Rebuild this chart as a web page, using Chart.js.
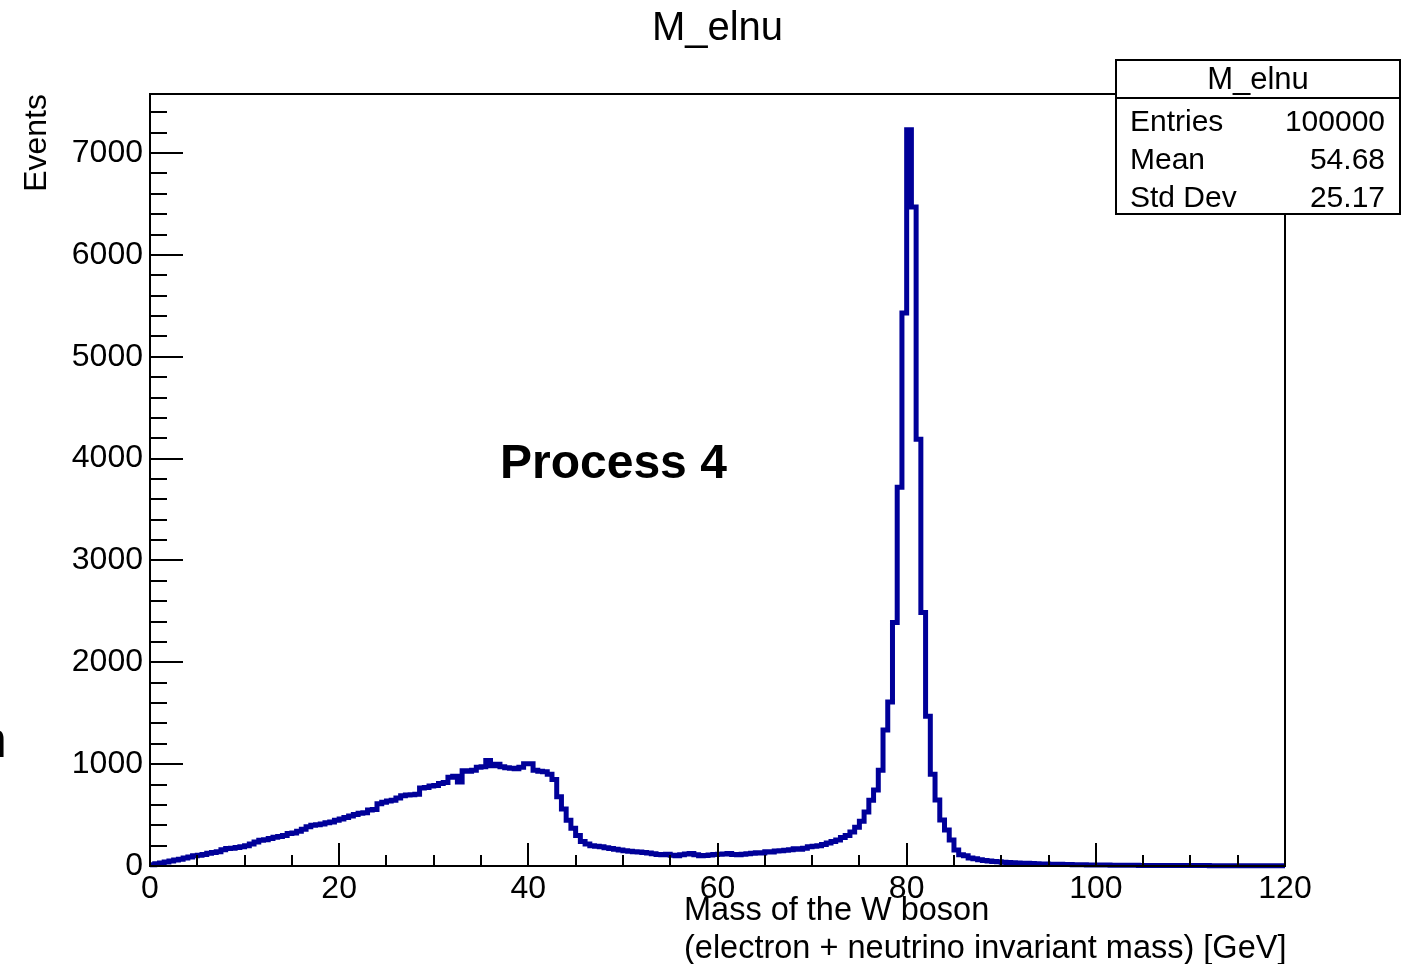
<!DOCTYPE html>
<html>
<head>
<meta charset="utf-8">
<title>M_elnu</title>
<script src="https://cdn.jsdelivr.net/npm/chart.js@4.4.0/dist/chart.umd.min.js"></script>
<style>
  html, body { margin: 0; padding: 0; background: #fff; }
  #wrap { width: 1406px; height: 964px; }
</style>
</head>
<body>
<div id="wrap"><canvas id="massChart" width="1406" height="964"></canvas></div>
<script>
// Histogramme M_elnu : 240 bins de 0.5 GeV entre 0 et 120 GeV
const xMin = 0;
const xMax = 120;
const binWidth = 0.5;
const yMax = 7580;

// contenu des bins (par tranches de 30 GeV)
const counts0to30 = [
  12, 22, 30, 40, 48, 58, 66, 78, 88, 100,
  105, 112, 125, 132, 140, 160, 172, 175, 182, 190,
  200, 215, 235, 252, 258, 270, 282, 290, 300, 318,
  325, 340, 360, 385, 400, 405, 412, 425, 432, 448,
  462, 475, 490, 505, 518, 522, 550, 555, 612, 625,
  638, 645, 668, 690, 697, 700, 705, 765, 770, 785
];
const counts30to60 = [
  790, 810, 820, 872, 880, 825, 935, 930, 940, 970,
  975, 1035, 985, 1000, 975, 965, 960, 955, 970, 1005,
  1005, 940, 930, 925, 900, 850, 680, 560, 450, 370,
  300, 240, 215, 200, 195, 190, 180, 172, 165, 158,
  150, 145, 140, 138, 132, 128, 120, 112, 110, 115,
  105, 100, 110, 118, 122, 110, 100, 102, 108, 112
];
const counts60to90 = [
  115, 118, 122, 112, 110, 115, 120, 125, 130, 128,
  140, 138, 148, 150, 155, 160, 170, 165, 175, 190,
  195, 200, 210, 225, 240, 255, 280, 300, 335, 380,
  440, 530, 645, 745, 940, 1335, 1610, 2390, 3720, 5430,
  7230, 6470, 4190, 2490, 1470, 900, 648, 452, 353, 255,
  157, 110, 100, 78, 72, 62, 55, 50, 45, 42
];
const counts90to120 = [
  38, 35, 32, 30, 28, 26, 24, 22, 20, 19,
  18, 17, 16, 15, 14, 13, 12, 12, 11, 10,
  10, 9, 9, 8, 8, 8, 7, 7, 7, 6,
  6, 6, 6, 5, 5, 5, 5, 5, 4, 4,
  4, 4, 4, 4, 3, 3, 3, 3, 3, 3,
  3, 3, 2, 2, 2, 2, 2, 2, 2, 2
];

// graduations
const xTickValues = [0, 20, 40, 60, 80, 100, 120];
const yTickValues = [0, 1000, 2000, 3000, 4000, 5000, 6000, 7000];

// boîte de statistiques
const statsLabels = ['Entries', 'Mean', 'Std Dev'];
const statsValues = ['100000', '54.68', '25.17'];

const fontFamily = '"Liberation Sans", Arial, Helvetica, sans-serif';
Chart.defaults.font.family = fontFamily;
Chart.defaults.color = '#000';

const counts = [].concat(counts0to30, counts30to60, counts60to90, counts90to120);
const histPoints = counts.map((c, i) => ({ x: xMin + i * binWidth, y: c }));
histPoints.push({ x: xMax, y: counts[counts.length - 1] });

// cadre, graduations et textes façon ROOT
const rootFrame = {
  id: 'rootFrame',
  afterDatasetsDraw(chart) {
    const { ctx, chartArea: a, scales: { x, y } } = chart;
    ctx.save();
    ctx.strokeStyle = '#000';
    ctx.lineWidth = 2;
    ctx.strokeRect(a.left, a.top, a.right - a.left, a.bottom - a.top);

    ctx.beginPath();
    for (let v = 0; v <= yMax; v += 200) {
      const py = Math.round(y.getPixelForValue(v));
      const len = v % 1000 === 0 ? 33 : 17;
      ctx.moveTo(a.left, py);
      ctx.lineTo(a.left + len, py);
    }
    for (let v = xMin; v <= xMax; v += 5) {
      const px = Math.round(x.getPixelForValue(v));
      const len = v % 20 === 0 ? 23 : 11;
      ctx.moveTo(px, a.bottom);
      ctx.lineTo(px, a.bottom - len);
    }
    ctx.stroke();

    ctx.fillStyle = '#000';
    // titre
    ctx.font = '40px ' + fontFamily;
    ctx.textAlign = 'center';
    ctx.textBaseline = 'alphabetic';
    ctx.fillText('M_elnu', (a.left + a.right) / 2, 40);

    // titres des axes
    ctx.font = '32.5px ' + fontFamily;
    ctx.textAlign = 'left';
    ctx.fillText('Mass of the W boson', 684, 920);
    ctx.fillText('(electron + neutrino invariant mass) [GeV]', 684, 958);

    ctx.save();
    ctx.translate(46, a.top);
    ctx.rotate(-Math.PI / 2);
    ctx.textAlign = 'right';
    ctx.font = '32px ' + fontFamily;
    ctx.fillText('Events', 0, 0);
    ctx.restore();

    // texte dans le graphique
    ctx.font = 'bold 48px ' + fontFamily;
    ctx.textAlign = 'left';
    ctx.fillText('Process 4', 500, 478);

    // lettre coupée au bord gauche
    ctx.font = '52px ' + fontFamily;
    ctx.fillText('n', -22, 757);

    // boîte de stats
    const bx = 1116, by = 60, bw = 284, bh = 154;
    ctx.fillStyle = '#fff';
    ctx.fillRect(bx, by, bw, bh);
    ctx.lineWidth = 2;
    ctx.strokeRect(bx, by, bw, bh);
    ctx.beginPath();
    ctx.moveTo(bx, 98);
    ctx.lineTo(bx + bw, 98);
    ctx.stroke();
    ctx.fillStyle = '#000';
    ctx.font = '31px ' + fontFamily;
    ctx.textAlign = 'center';
    ctx.fillText('M_elnu', bx + bw / 2, 89);
    ctx.font = '30px ' + fontFamily;
    statsLabels.forEach((lab, i) => {
      const base = 131 + i * 38;
      ctx.textAlign = 'left';
      ctx.fillText(lab, 1130, base);
      ctx.textAlign = 'right';
      ctx.fillText(statsValues[i], 1385, base);
    });
    ctx.restore();
  }
};

const ctx = document.getElementById('massChart').getContext('2d');
new Chart(ctx, {
  type: 'line',
  data: {
    datasets: [{
      label: 'M_elnu',
      data: histPoints,
      stepped: true,
      borderColor: 'rgb(0, 0, 153)',
      borderWidth: 5,
      pointRadius: 0,
      fill: false,
      clip: 6
    }]
  },
  options: {
    responsive: false,
    devicePixelRatio: 1,
    animation: false,
    layout: { padding: { top: 94, right: 121, left: 0, bottom: 0 } },
    plugins: {
      legend: { display: false },
      tooltip: { enabled: false },
      title: { display: false }
    },
    scales: {
      x: {
        type: 'linear',
        min: xMin,
        max: xMax,
        grid: { display: false, drawTicks: false },
        border: { display: false },
        afterBuildTicks: s => { s.ticks = xTickValues.map(v => ({ value: v })); },
        ticks: {
          autoSkip: false,
          maxRotation: 0,
          padding: 4,
          font: { size: 32 },
          callback: v => String(v)
        },
        afterFit: s => { s.height = 98; }
      },
      y: {
        type: 'linear',
        min: 0,
        max: yMax,
        grid: { display: false, drawTicks: false },
        border: { display: false },
        afterBuildTicks: s => { s.ticks = yTickValues.map(v => ({ value: v })); },
        ticks: {
          autoSkip: false,
          padding: 7,
          font: { size: 32 },
          callback: v => String(v)
        },
        afterFit: s => { s.width = 150; }
      }
    }
  },
  plugins: [rootFrame]
});
</script>
</body>
</html>
